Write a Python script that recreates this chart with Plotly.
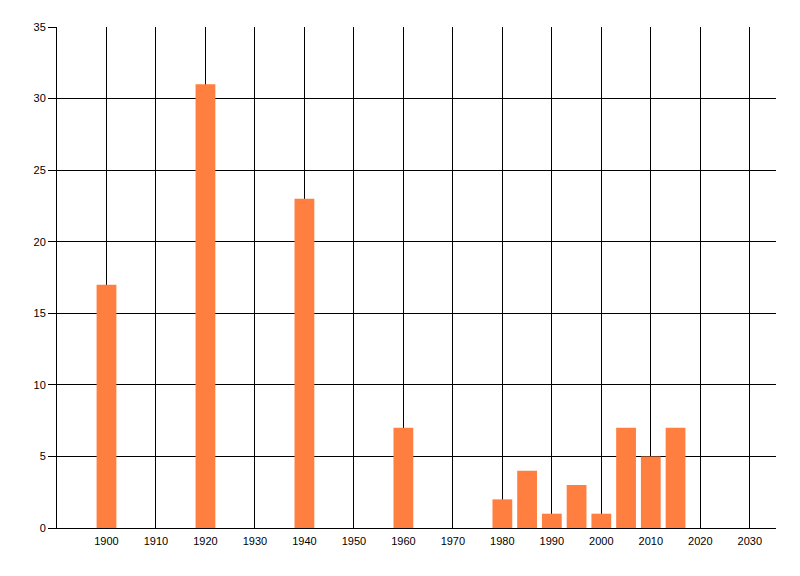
import plotly.graph_objects as go

years = [1900, 1920, 1940, 1960, 1980, 1985, 1990, 1995, 2000, 2005, 2010, 2015]
counts = [17, 31, 23, 7, 2, 4, 1, 3, 1, 7, 5, 7]
x_ticks = list(range(1900, 2031, 10))

fig = go.Figure()
fig.add_trace(go.Bar(x=years, y=counts, width=4,
                     marker=dict(color='#ff7f41', line=dict(width=0))))

# page body adds an 8px margin, so the figure is a bit smaller than the window
fig.update_layout(
    width=784, height=560,
    margin=dict(l=49, r=16, t=19, b=40),
    plot_bgcolor='white', paper_bgcolor='white',
    font=dict(family='Liberation Sans', size=11, color='black'),
    showlegend=False,
    xaxis=dict(range=[1890, 2035.3], tickvals=x_ticks, ticktext=[str(t) for t in x_ticks],
               showgrid=True, gridcolor='black', gridwidth=1,
               showline=True, linecolor='black', linewidth=1,
               ticks='outside', ticklen=3, tickcolor='white', zeroline=False),
    yaxis=dict(range=[0, 35], dtick=5, tick0=0,
               showgrid=True, gridcolor='black', gridwidth=1,
               showline=True, linecolor='black', linewidth=1,
               ticks='outside', ticklen=8, tickcolor='black', zeroline=False),
)

fig.write_html("out.html")
